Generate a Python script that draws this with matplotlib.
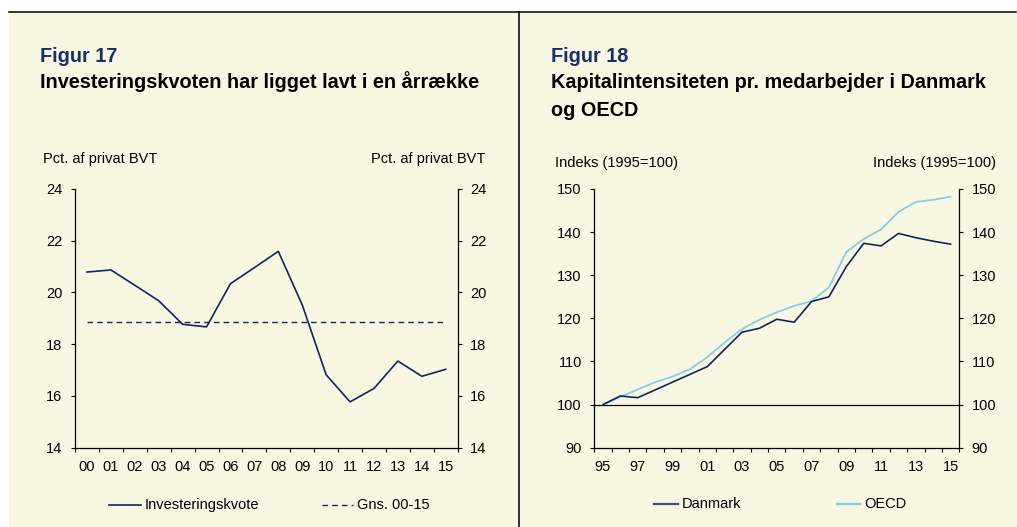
import matplotlib
matplotlib.use("Agg")
import matplotlib.pyplot as plt
from matplotlib.lines import Line2D
from matplotlib.patches import Rectangle
from matplotlib.ticker import FixedLocator

plt.rcParams['font.family'] = ['Liberation Sans', 'DejaVu Sans']

# ---- data: Figur 17 ----
years17 = ["00", "01", "02", "03", "04", "05", "06", "07", "08", "09",
           "10", "11", "12", "13", "14", "15"]
invest = [20.79, 20.87, 20.28, 19.68, 18.77, 18.67, 20.34, 20.96, 21.59, 19.52,
          16.82, 15.77, 16.29, 17.35, 16.76, 17.03]
avg_00_15 = 18.85

# ---- data: Figur 18 ----
years18 = ["95", "96", "97", "98", "99", "00", "01", "02", "03", "04", "05",
           "06", "07", "08", "09", "10", "11", "12", "13", "14", "15"]
danmark = [100.0, 102.0, 101.6, 103.4, 105.2, 107.0, 108.8, 112.8, 116.8, 117.7, 119.8,
           119.1, 123.9, 125.0, 132.0, 137.4, 136.8, 139.7, 138.7, 137.9, 137.2]
oecd = [100.0, 101.8, 103.5, 105.2, 106.5, 108.2, 111.0, 114.4, 117.5, 119.7, 121.4,
        122.9, 124.0, 127.2, 135.4, 138.4, 140.6, 144.7, 147.0, 147.5, 148.2]

W, H = 1017, 527
NAVY = '#14245E'
TITLE_NAVY = '#1A2E6E'
LIGHT = '#7FCBEA'
BG = '#F8F7E1'

fig = plt.figure(figsize=(W / 100, H / 100), dpi=100)
fig.patch.set_facecolor('white')

def fx(x):
    return x / W

def fy(y):
    return (H - y) / H

# background panel and frame lines
fig.add_artist(Rectangle((fx(9), 0), 1 - fx(9), fy(11.5), transform=fig.transFigure,
                         facecolor=BG, edgecolor='none', zorder=0))
fig.add_artist(Line2D([fx(9), fx(1016)], [fy(11.5), fy(11.5)], transform=fig.transFigure,
                      color='black', lw=1.1))
fig.add_artist(Line2D([fx(519), fx(519)], [0, fy(11.5)], transform=fig.transFigure,
                      color='black', lw=1.1))

def style_axes(ax, nx, ylim, yticks, labels_every=1, labels=None):
    ax.set_facecolor('none')
    ax.set_xlim(-0.5, nx - 0.5)
    ax.set_ylim(*ylim)
    ax.set_yticks(yticks)
    ax.spines['top'].set_visible(False)
    for s in ('left', 'right', 'bottom'):
        ax.spines[s].set_color('black')
        ax.spines[s].set_linewidth(0.9)
    ax.tick_params(axis='y', which='major', direction='out', length=3, width=0.8,
                   pad=6, labelsize=10.5, left=True, right=True,
                   labelleft=True, labelright=True, colors='black')
    pos = list(range(0, nx, labels_every))
    ax.set_xticks(pos)
    ax.set_xticklabels([labels[i] for i in pos])
    ax.xaxis.set_minor_locator(FixedLocator([i - 0.5 for i in range(nx + 1)]))
    ax.tick_params(axis='x', which='major', length=0, pad=9, labelsize=10.5, colors='black')
    ax.tick_params(axis='x', which='minor', direction='out', length=3, width=0.8, colors='black')

# ---- left chart ----
ax1 = fig.add_axes([fx(75), fy(447.7), fx(457.7) - fx(75), fy(189) - fy(447.7)])
x17 = list(range(len(years17)))
ax1.plot(x17, invest, color=NAVY, lw=1.2, zorder=3)
ax1.plot([x17[0], x17[-1]], [avg_00_15, avg_00_15], color=NAVY, lw=1.0,
         dashes=(4, 3), zorder=3)
style_axes(ax1, len(years17), (14, 24), [14, 16, 18, 20, 22, 24], 1, years17)

# ---- right chart ----
ax2 = fig.add_axes([fx(594.3), fy(447.7), fx(959.3) - fx(594.3), fy(189) - fy(447.7)])
x18 = list(range(len(years18)))
ax2.axhline(100, color='black', lw=0.9, zorder=2)
ax2.plot(x18, oecd, color=LIGHT, lw=1.2, zorder=3)
ax2.plot(x18, danmark, color=NAVY, lw=1.2, zorder=4)
style_axes(ax2, len(years18), (90, 150), [90, 100, 110, 120, 130, 140, 150], 2, years18)

# ---- titles ----
TS = 14.3
fig.text(fx(40), fy(61.5), "Figur 17", color=TITLE_NAVY, fontsize=TS, fontweight='bold', va='baseline')
fig.text(fx(40), fy(88.5), "Investeringskvoten har ligget lavt i en årrække", color='black',
         fontsize=TS, fontweight='bold', va='baseline')
fig.text(fx(551), fy(61.5), "Figur 18", color=TITLE_NAVY, fontsize=TS, fontweight='bold', va='baseline')
fig.text(fx(551), fy(88.5), "Kapitalintensiteten pr. medarbejder i Danmark", color='black',
         fontsize=TS, fontweight='bold', va='baseline')
fig.text(fx(551), fy(115.5), "og OECD", color='black', fontsize=TS, fontweight='bold', va='baseline')

# ---- axis unit labels ----
fig.text(fx(43), fy(163.5), "Pct. af privat BVT", fontsize=10.5, va='baseline', ha='left')
fig.text(fx(485), fy(163.5), "Pct. af privat BVT", fontsize=10.5, va='baseline', ha='right')
fig.text(fx(555), fy(167.5), "Indeks (1995=100)", fontsize=10.5, va='baseline', ha='left')
fig.text(fx(996), fy(167.5), "Indeks (1995=100)", fontsize=10.5, va='baseline', ha='right')

# ---- legends ----
def legend_item(x0, x1, y, text, color, dashes=None, lw=1.2):
    ln = Line2D([fx(x0), fx(x1)], [fy(y), fy(y)], transform=fig.transFigure, color=color, lw=lw)
    if dashes:
        ln.set_dashes(dashes)
    fig.add_artist(ln)
    fig.text(fx(x1 + 4), fy(y), text, fontsize=10.5, va='center', ha='left')

legend_item(109, 141, 505, "Investeringskvote", NAVY)
legend_item(322, 353, 505, "Gns. 00-15", NAVY, dashes=(4, 3), lw=1.0)
legend_item(654, 677.5, 503.5, "Danmark", '#3E4F80', lw=1.6)
legend_item(837, 860, 503.5, "OECD", LIGHT, lw=1.6)

fig.savefig("out.png", dpi=100, facecolor=fig.get_facecolor())
